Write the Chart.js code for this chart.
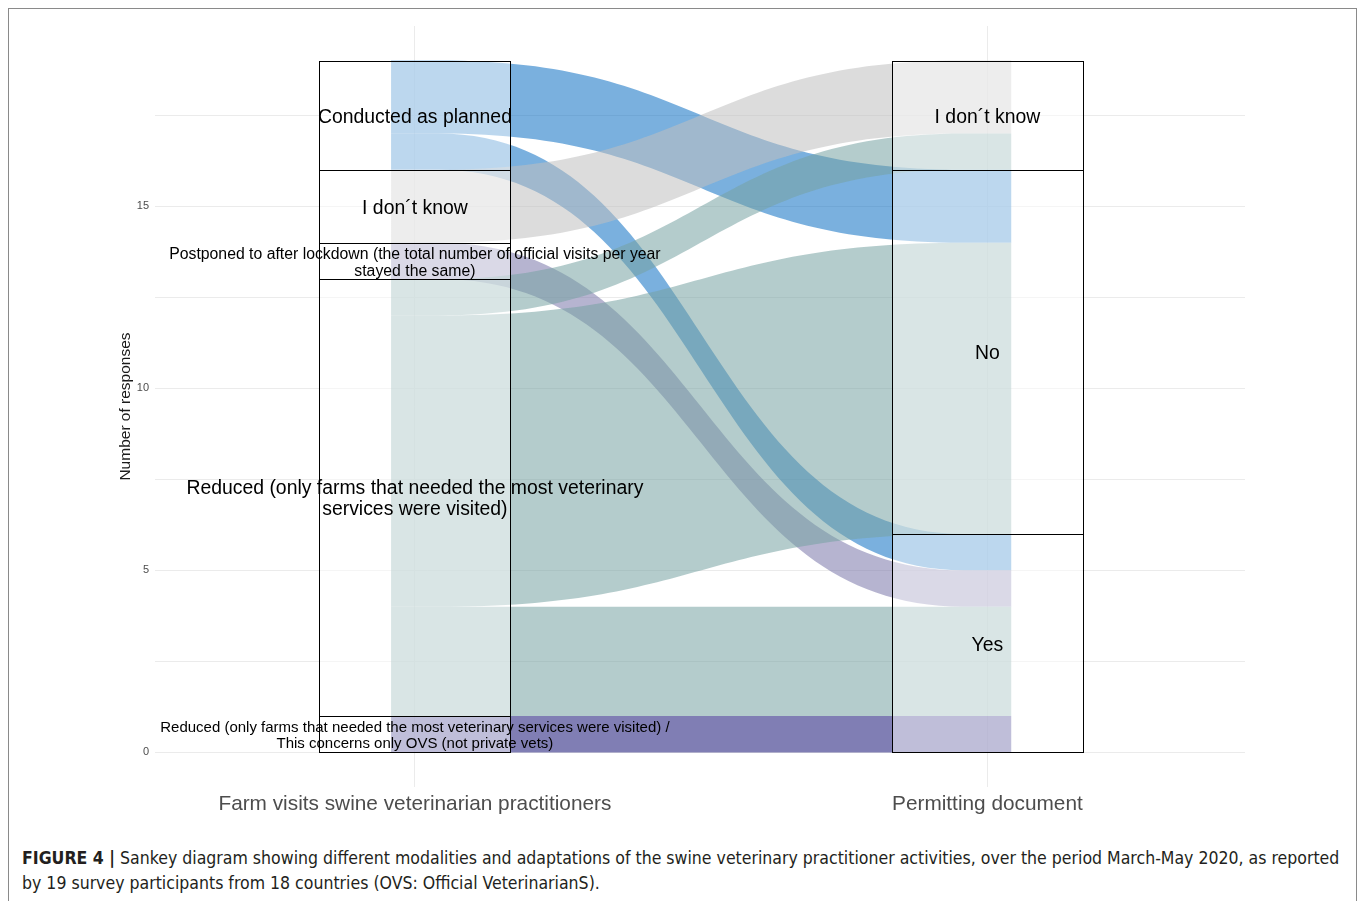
<!DOCTYPE html>
<html>
<head>
<meta charset="utf-8">
<script src="https://cdn.jsdelivr.net/npm/chart.js@4.4.1/dist/chart.umd.min.js"></script>
<style>
  body { margin: 0; background: #fff; width: 1360px; height: 901px; overflow: hidden; position: relative; }
  #frame { position: absolute; left: 8px; top: 8px; width: 1349px; height: 920px; border: 1px solid #8a8a8a; box-sizing: border-box; }
  #wrap { position: absolute; left: 0; top: 0; width: 1360px; height: 830px; }
  #caption { position: absolute; left: 22px; top: 846px; width: 1335px; white-space: nowrap; font-family: "Liberation Sans Narrow", "DejaVu Sans Condensed", Arial, sans-serif; font-size: 17.55px; line-height: 25px; color: #231f20; }
  #caption b { font-weight: bold; }
</style>
</head>
<body>
<div id="frame"></div>
<div id="wrap"><canvas id="sankeyChart"></canvas></div>
<div id="caption"><b>FIGURE 4 |</b> Sankey diagram showing different modalities and adaptations of the swine veterinary practitioner activities, over the period March-May 2020, as reported<br>by 19 survey participants from 18 countries (OVS: Official VeterinarianS).</div>

<script>
// Axis names (x categories)
const axisNames = ['Farm visits swine veterinarian practitioners', 'Permitting document'];

// Strata, bottom to top
const visitCategories = [
    'Reduced (only farms that needed the most veterinary services were visited) /\nThis concerns only OVS (not private vets)',
    'Reduced (only farms that needed the most veterinary\nservices were visited)',
    'Postponed to after lockdown (the total number of official visits per year\nstayed the same)',
    'I don\u00b4t know',
    'Conducted as planned'
];
const permitCategories = ['Yes', 'No', 'I don\u00b4t know'];

// Flows: index into visitCategories -> index into permitCategories
const flowFrom   = [0, 1, 1, 1, 2, 3, 4, 4];
const flowTo     = [0, 0, 1, 2, 0, 2, 0, 1];
const flowCounts = [1, 3, 8, 1, 1, 2, 1, 2];

// y ticks
const yGridValues = [0, 2.5, 5, 7.5, 10, 12.5, 15, 17.5];
const yTickLabels = [0, 5, 10, 15];

// colours per visit category (fill of flows)
const visitColors = [
    'rgba(24, 20, 119, 0.55)',
    'rgba(119, 162, 162, 0.55)',
    'rgba(122, 119, 170, 0.55)',
    'rgba(191, 191, 191, 0.55)',
    'rgba(13, 111, 195, 0.55)'
];
const visitLabelSize = [15, 19.4, 15.8, 19.4, 19.4];
const visitLineGap = [16, 21, 17, 21, 21];

const strataHalf = 1 / 6;
const lodeHalf = 1 / 24;

function buildLayout() {
    const flows = flowFrom.map(function(f, i) {
        return { from: f, to: flowTo[i], n: flowCounts[i] };
    });
    const left = [];
    let pos = 0;
    visitCategories.forEach(function(label, ci) {
        const lo = pos;
        flows.filter(f => f.from === ci).sort((a, b) => a.to - b.to).forEach(function(f) {
            f.a0 = pos; pos += f.n; f.a1 = pos;
        });
        left.push({ label: label, lo: lo, hi: pos, size: visitLabelSize[ci], gap: visitLineGap[ci] });
    });
    const right = [];
    pos = 0;
    permitCategories.forEach(function(label, ci) {
        const lo = pos;
        flows.filter(f => f.to === ci).sort((a, b) => a.from - b.from).forEach(function(f) {
            f.b0 = pos; pos += f.n; f.b1 = pos;
        });
        right.push({ label: label, lo: lo, hi: pos, size: 19.4, gap: 21 });
    });
    return { flows: flows, left: left, right: right };
}

const layout = buildLayout();

const sankeyPlugin = {
    id: 'sankey',
    afterDatasetsDraw(chart) {
        const ctx = chart.ctx;
        const x = chart.scales.x;
        const y = chart.scales.y;
        const Y = v => y.getPixelForValue(v);
        const xa0 = x.getPixelForValue(1 - lodeHalf);
        const xa1 = x.getPixelForValue(1 + lodeHalf);
        const xb0 = x.getPixelForValue(2 - lodeHalf);
        const xb1 = x.getPixelForValue(2 + lodeHalf);
        const mid = (xa1 + xb0) / 2;

        ctx.save();
        // flows, top source first
        const ordered = layout.flows.slice().sort((a, b) => b.from - a.from);
        ordered.forEach(function(f) {
            ctx.beginPath();
            ctx.moveTo(xa0, Y(f.a0));
            ctx.lineTo(xa1, Y(f.a0));
            ctx.bezierCurveTo(mid, Y(f.a0), mid, Y(f.b0), xb0, Y(f.b0));
            ctx.lineTo(xb1, Y(f.b0));
            ctx.lineTo(xb1, Y(f.b1));
            ctx.lineTo(xb0, Y(f.b1));
            ctx.bezierCurveTo(mid, Y(f.b1), mid, Y(f.a1), xa1, Y(f.a1));
            ctx.lineTo(xa0, Y(f.a1));
            ctx.closePath();
            ctx.fillStyle = visitColors[f.from];
            ctx.fill();
        });

        // strata boxes
        [[1, layout.left], [2, layout.right]].forEach(function(pair) {
            const cx = pair[0];
            const x0 = x.getPixelForValue(cx - strataHalf);
            const x1 = x.getPixelForValue(cx + strataHalf);
            pair[1].forEach(function(s) {
                const top = Y(s.hi), bot = Y(s.lo);
                ctx.fillStyle = 'rgba(255,255,255,0.5)';
                ctx.fillRect(x0, top, x1 - x0, bot - top);
                ctx.strokeStyle = '#000';
                ctx.lineWidth = 1;
                ctx.strokeRect(Math.round(x0) + 0.5, Math.round(top) + 0.5, Math.round(x1 - x0), Math.round(bot - top));
            });
        });

        // labels
        ctx.fillStyle = '#000';
        ctx.textAlign = 'center';
        ctx.textBaseline = 'middle';
        [[1, layout.left], [2, layout.right]].forEach(function(pair) {
            const px = x.getPixelForValue(pair[0]);
            pair[1].forEach(function(s) {
                const lines = s.label.split('\n');
                const cy = Y((s.lo + s.hi) / 2) + 2;
                ctx.font = s.size + 'px "Liberation Sans", Arial, sans-serif';
                lines.forEach(function(line, i) {
                    ctx.fillText(line, px, cy + (i - (lines.length - 1) / 2) * s.gap);
                });
            });
        });
        ctx.restore();
    }
};

new Chart(document.getElementById('sankeyChart'), {
    type: 'scatter',
    data: { datasets: [] },
    plugins: [sankeyPlugin],
    options: {
        responsive: true,
        maintainAspectRatio: false,
        animation: false,
        layout: { padding: { left: 100, right: 115, top: 26, bottom: 0 } },
        plugins: { legend: { display: false }, tooltip: { enabled: false } },
        scales: {
            x: {
                type: 'linear',
                min: 0.546,
                max: 2.45,
                afterBuildTicks: function(scale) {
                    scale.ticks = axisNames.map((n, i) => ({ value: i + 1 }));
                },
                afterFit: function(scale) { scale.height = 43; },
                ticks: {
                    autoSkip: false,
                    maxRotation: 0,
                    padding: 5,
                    color: '#4d4d4d',
                    font: { family: '"Liberation Sans", Arial, sans-serif', size: 20.8 },
                    callback: function(value) { return axisNames[Math.round(value) - 1]; }
                },
                grid: { color: '#ebebeb', lineWidth: 1, drawTicks: false },
                border: { display: false }
            },
            y: {
                type: 'linear',
                min: -0.95,
                max: 19.95,
                afterBuildTicks: function(scale) {
                    scale.ticks = yGridValues.map(v => ({ value: v }));
                },
                afterFit: function(scale) { scale.width = 55; },
                ticks: {
                    autoSkip: false,
                    padding: 6,
                    color: '#4d4d4d',
                    font: { family: '"Liberation Sans", Arial, sans-serif', size: 11 },
                    callback: function(value) { return yTickLabels.includes(value) ? String(value) : ''; }
                },
                title: {
                    display: true,
                    text: 'Number of responses',
                    color: '#1a1a1a',
                    padding: { top: 16, bottom: 0 },
                    font: { family: '"Liberation Sans", Arial, sans-serif', size: 15.5 }
                },
                grid: { color: '#ebebeb', lineWidth: 1, drawTicks: false },
                border: { display: false }
            }
        }
    }
});
</script>
</body>
</html>
